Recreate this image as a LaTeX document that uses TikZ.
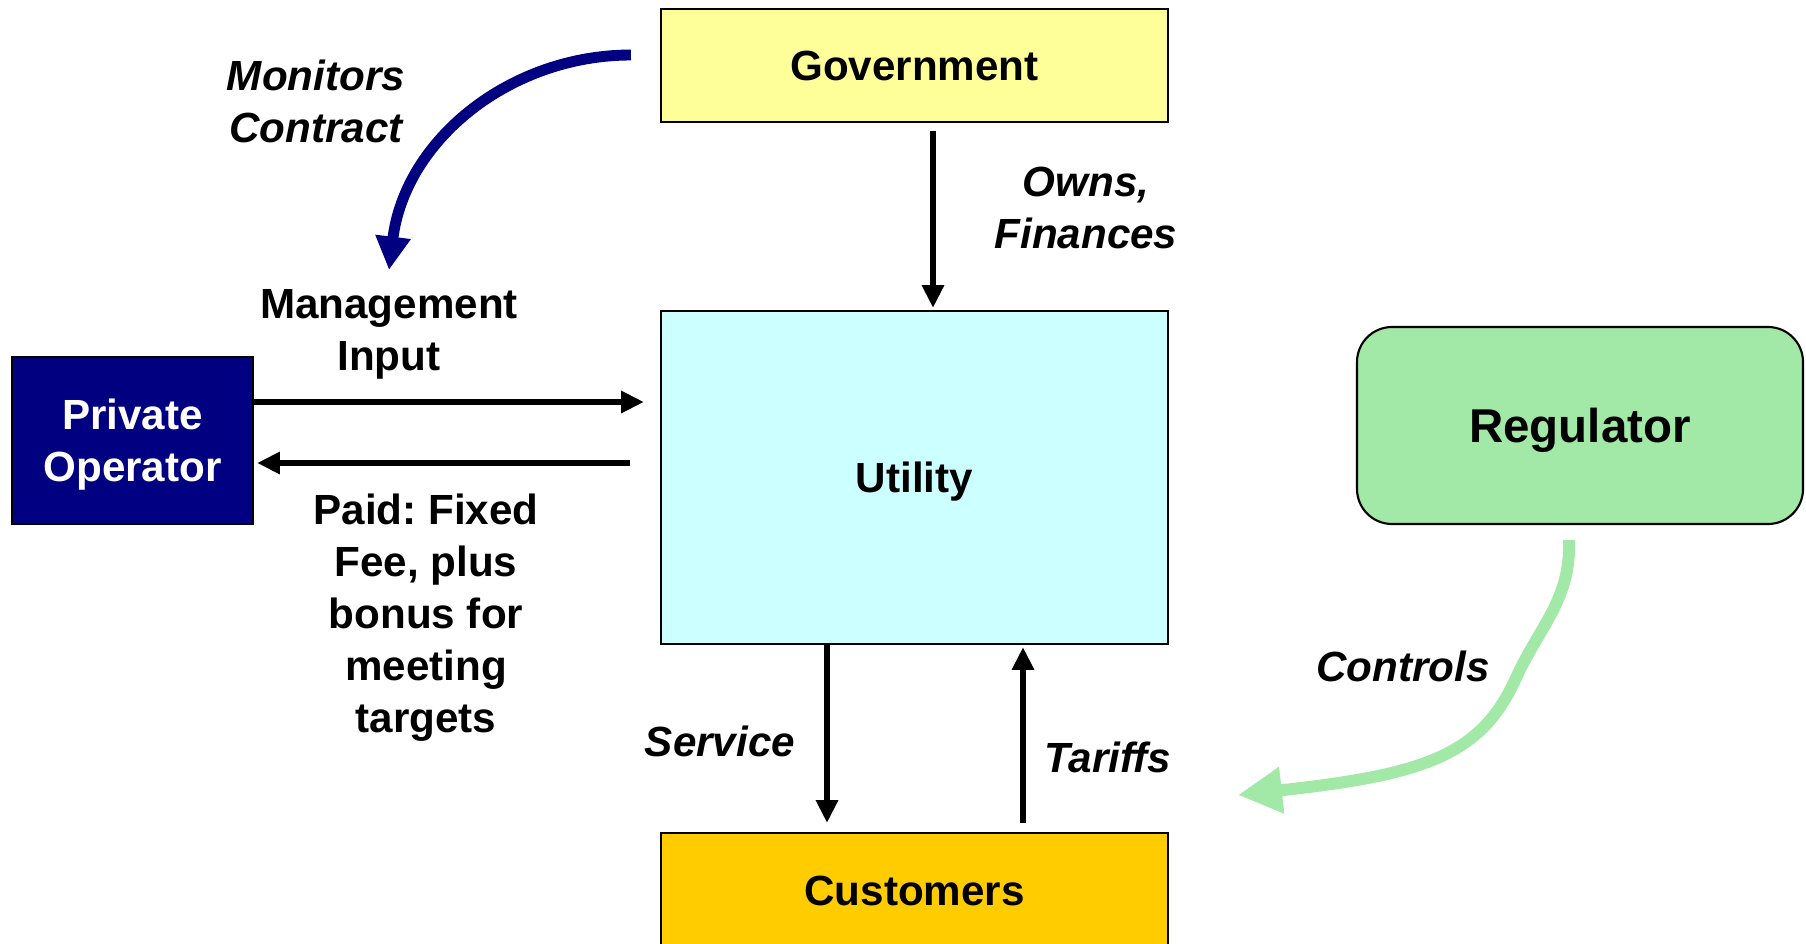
\documentclass[tikz,border=0pt]{standalone}
\usepackage{fontspec}
\setmainfont{Liberation Sans}
\usetikzlibrary{arrows.meta}
\frenchspacing

\definecolor{govyellow}{HTML}{FFFF99}
\definecolor{utilcyan}{HTML}{CCFFFF}
\definecolor{custgold}{HTML}{FFCC00}
\definecolor{opnavy}{HTML}{000080}
\definecolor{reggreen}{HTML}{A2E8A6}

\tikzset{
  box/.style={draw, line width=0.6pt, inner sep=0pt, align=center, text depth=0pt,
    font=\fontsize{12}{14.8}\selectfont\bfseries},
  lbl/.style={inner sep=0pt, align=center, font=\fontsize{12}{14.8}\selectfont\bfseries},
  ilbl/.style={lbl, font=\fontsize{12}{14.8}\selectfont\bfseries\itshape},
  arr/.style={line width=1.7pt, -{Triangle[width=6pt,length=6.5pt]}},
  navyarr/.style={draw=opnavy, line width=3.1pt, -{Triangle[width=9.5pt,length=9.5pt]}},
  greenarr/.style={draw=reggreen, line width=3.4pt, -{Triangle[width=12.5pt,length=12.5pt]}}
}

\begin{document}
\begin{tikzpicture}[x=0.1mm,y=-0.1mm]
   \clip (0,0) rectangle (1806,943);

   %cajas
   \node[box, fill=govyellow, minimum width=50.7mm, minimum height=11.3mm] (gov) at (914.5,65.5) {Government};
   \node[box, fill=utilcyan, minimum width=50.7mm, minimum height=33.3mm] (util) at (914.5,477.5) {Utility};
   \node[box, fill=custgold, minimum width=50.7mm, minimum height=11.6mm] (cust) at (914.5,891) {Customers};
   \node[box, fill=opnavy, text=white, minimum width=24.1mm, minimum height=16.7mm] (op) at (132.5,440.5) {Private\\Operator};
   \node[box, fill=reggreen, rounded corners=3.5mm, minimum width=44.6mm, minimum height=19.7mm,
     font=\fontsize{13.5}{16}\selectfont\bfseries] (reg) at (1580,425.5) {Regulator};

   %puntos libres
   \coordinate (mi) at ([yshift=3.85mm]op.east);
   \coordinate (pd) at ([yshift=-2.25mm]op.east);
   \coordinate (mc) at (389,270);
   \coordinate (ct) at (1238,795);

   %flechas
   \draw[arr] ([xshift=1.85mm,yshift=-0.8mm]gov.south) -- ([xshift=1.85mm,yshift=0.2mm]util.north);
   \draw[arr] ([xshift=-8.75mm]util.south) -- ([xshift=-8.75mm,yshift=0.9mm]cust.north);
   \draw[arr] ([xshift=10.85mm,yshift=0.9mm]cust.north) -- ([xshift=10.85mm,yshift=-0.2mm]util.south);
   \draw[arr, shorten >=1.6mm] (mi) -- (mi -| util.west);
   \draw[arr, shorten <=3mm, shorten >=0.3mm] (pd -| util.west) -- (pd);
   \draw[navyarr] ([xshift=-2.9mm,yshift=1.05mm]gov.west) .. controls (510,55) and (405,140) .. (mc);
   \draw[greenarr] ([xshift=-1.1mm,yshift=-1.5mm]reg.south) .. controls (1571,600) and (1540,625) .. (1515,680)
     .. controls (1480,757) and (1420,775) .. (ct);

   %etiquetas
   \node[ilbl] (mon) at (316,101.5) {Monitors\\Contract};
   \node[ilbl] (owns) at (1086,207.5) {Owns,\\Finances};
   \node[lbl] (mgmt) at (389,334) {Management\\Input};
   \node[lbl] (paid) at (426,618) {Paid: Fixed\\Fee, plus\\bonus for\\meeting\\targets};
   \node[ilbl] (serv) at (720,741) {Service};
   \node[ilbl] (tar) at (1108,757) {Tariffs};
   \node[ilbl] (ctrl) at (1403,666) {Controls};
\end{tikzpicture}
\end{document}
